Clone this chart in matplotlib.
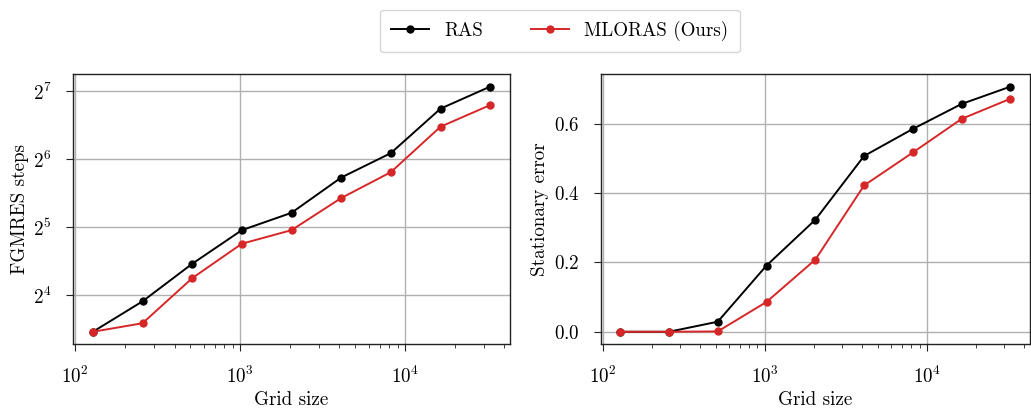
import numpy as np
import matplotlib
matplotlib.use("Agg")
import matplotlib.pyplot as plt

# Data
grid_size = [128, 256, 512, 1024, 2048, 4096, 8192, 16384, 32768]
ras_steps = [11, 15, 22, 31, 37, 53, 68, 107, 134]
mloras_steps = [11, 12, 19, 27, 31, 43, 56, 89, 111]
ras_error = [0.0, 0.0, 0.029, 0.191, 0.323, 0.507, 0.585, 0.657, 0.707]
mloras_error = [0.0, 0.0, 0.001, 0.086, 0.208, 0.422, 0.517, 0.614, 0.672]

plt.rcParams['font.family'] = ['cmr10', 'DejaVu Serif']
plt.rcParams['mathtext.fontset'] = 'cm'
plt.rcParams['axes.formatter.use_mathtext'] = True
plt.rcParams['font.size'] = 13.7
plt.rcParams['axes.edgecolor'] = '#222222'
plt.rcParams['axes.linewidth'] = 1.0

fig = plt.figure(figsize=(10.31, 4.13), dpi=100)
ax1 = fig.add_axes([0.0708, 0.167, 0.4239, 0.653])
ax2 = fig.add_axes([0.5826, 0.167, 0.4164, 0.653])

black = '#000000'
red = '#d62728'

# Left: FGMRES steps
ax1.plot(grid_size, ras_steps, marker='o', ms=5, lw=1.4, color=black, label='RAS')
ax1.plot(grid_size, mloras_steps, marker='o', ms=5, lw=1.4, color=red, label='MLORAS (Ours)')
ax1.set_xscale('log')
ax1.set_yscale('log', base=2)
ax1.set_xlabel('Grid size', labelpad=3)
ax1.set_ylabel('FGMRES steps', labelpad=3)

# Right: stationary error
ax2.plot(grid_size, ras_error, marker='o', ms=5, lw=1.4, color=black)
ax2.plot(grid_size, mloras_error, marker='o', ms=5, lw=1.4, color=red)
ax2.set_xscale('log')
ax2.set_yticks([0.0, 0.2, 0.4, 0.6])
ax2.set_xlabel('Grid size', labelpad=3)
ax2.set_ylabel('Stationary error', labelpad=3)

for ax in (ax1, ax2):
    ax.grid(True, which='major', color='#b0b0b0', lw=1.0)
    ax.set_axisbelow(True)
    ax.tick_params(which='major', color='#222222', length=5, pad=10.5)
    ax.tick_params(which='minor', color='#222222', length=3)

fig.legend(loc='upper center', bbox_to_anchor=(560 / 1031, 1.0), ncol=2,
           frameon=True, edgecolor='#cccccc', fontsize=13.7, columnspacing=2.5,
           borderpad=0.6)

fig.savefig('out.png', dpi=100)
